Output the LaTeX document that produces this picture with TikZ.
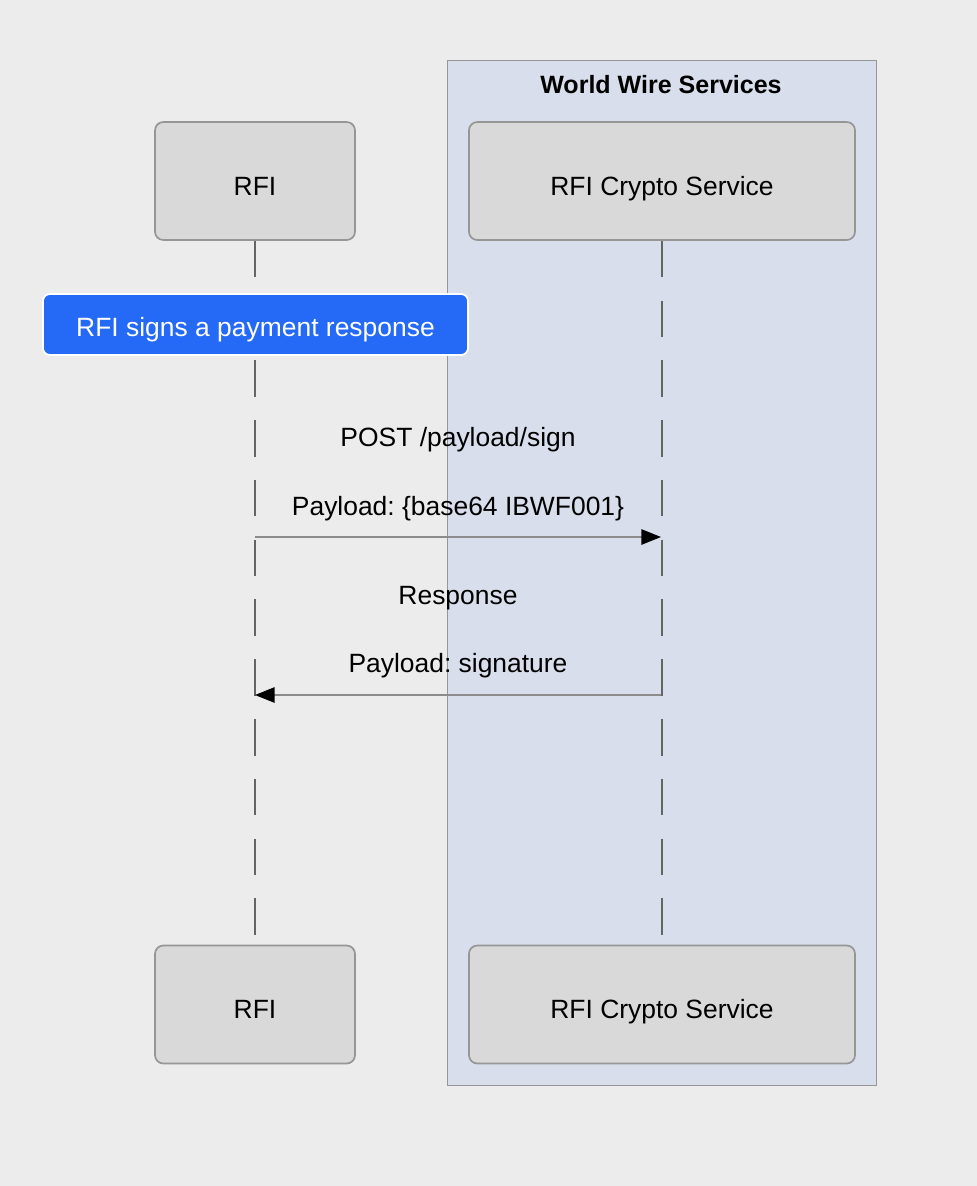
\documentclass[tikz,border=0pt]{standalone}
\usepackage{fontspec}
\setmainfont{Liberation Sans}
\usetikzlibrary{arrows.meta, positioning}
\frenchspacing
\definecolor{canvas}{RGB}{236,236,236}
\definecolor{groupfill}{RGB}{216,222,235}
\definecolor{groupline}{RGB}{150,150,150}
\definecolor{actorfill}{RGB}{217,217,217}
\definecolor{actorline}{RGB}{150,150,150}
\definecolor{notefill}{RGB}{36,106,246}
\definecolor{lifegray}{RGB}{100,100,100}
\definecolor{msggray}{RGB}{140,140,140}
\newcommand{\diafont}{\fontsize{18.8}{22}\selectfont}
\tikzset{
    actor/.style={rectangle, rounded corners=6pt, minimum height=2.95cm, text height=20.6pt, text depth=0pt, align=center, draw=actorline, line width=1.2pt, fill=actorfill, font=\diafont},
    groupbox/.style={draw=groupline, fill=groupfill, line width=0.7pt},
    grouptitle/.style={font=\fontsize{17.8}{21}\selectfont\bfseries, inner sep=0pt},
    note/.style={rectangle, rounded corners=5pt, minimum width=10.625cm, minimum height=1.525cm, text height=16.4pt, text depth=0pt, draw=white, line width=1.3pt, fill=notefill, text=white, font=\diafont},
    lifeline/.style={lifegray, line width=1pt, dash pattern=on 26pt off 16.5pt},
    msglabel/.style={font=\diafont, inner sep=0pt, anchor=base},
    message/.style={msggray, line width=1pt, -{Triangle[length=14pt, width=11pt, color=black]}}
}
\begin{document}
\begin{tikzpicture}
    \begin{scope}[x=0.025cm, y=-0.025cm]
        % Canvas and group box
        \fill[canvas] (0,0) rectangle (977,1186);
        \draw[groupbox] (447,60) rectangle (876,1085);
        \node[grouptitle] (wwsTitle) at (661,85) {World Wire Services};

        % Participants, top and bottom
        \node[actor, minimum width=5cm] (rfiTop) at (255,181) {RFI};
        \node[actor, minimum width=9.65cm] (cryptoTop) at (662,181) {RFI Crypto Service};
        \node[actor, minimum width=5cm] (rfiBot) at (255,1004.5) {RFI};
        \node[actor, minimum width=9.65cm] (cryptoBot) at (662,1004.5) {RFI Crypto Service};

        % Lifelines
        \draw[lifeline] (rfiTop) -- (rfiBot);
        \draw[lifeline] (cryptoTop) -- (cryptoBot);

        % Note over RFI
        \node[note] (signNote) at (255.5,324.5) {RFI signs a payment response};

        % Sign request
        \coordinate (reqFrom) at (rfiTop |- 0,537);
        \coordinate (reqTo) at (661,537);
        \draw[message] (reqFrom) -- (reqTo);
        \node[msglabel] (reqLine1) at (458,446.5) {POST /payload/sign};
        \node[msglabel] (reqLine2) at (458,515.5) {Payload: \{base64 IBWF001\}};

        % Response
        \coordinate (resFrom) at (661,695);
        \coordinate (resTo) at (255,695);
        \draw[message] (resFrom) -- (resTo);
        \node[msglabel] (resLine1) at (458,604.5) {Response};
        \node[msglabel] (resLine2) at (458,672.5) {Payload: signature};
    \end{scope}
\end{tikzpicture}
\end{document}
